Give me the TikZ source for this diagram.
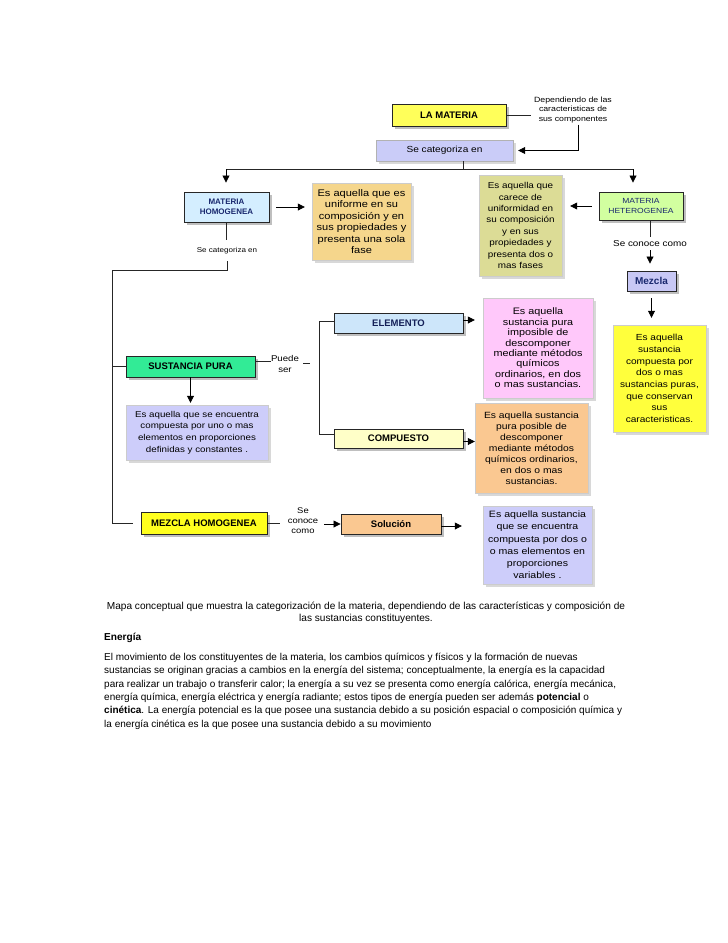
\documentclass[tikz,border=0pt]{standalone}
\usepackage{fontspec}
\setmainfont{Liberation Sans}
\newfontfamily\widefont[FakeStretch=1.15]{Liberation Sans}
\usetikzlibrary{shadows,arrows.meta}
\definecolor{cMat}{RGB}{255,255,90}
\definecolor{cCat}{RGB}{202,204,248}
\definecolor{cHom}{RGB}{212,238,255}
\definecolor{cNavy}{RGB}{25,40,110}
\definecolor{cOr}{RGB}{245,214,140}
\definecolor{cOl}{RGB}{220,220,150}
\definecolor{cHet}{RGB}{210,255,160}
\definecolor{cMez}{RGB}{200,200,245}
\definecolor{cYel}{RGB}{255,255,60}
\definecolor{cSp}{RGB}{50,235,150}
\definecolor{cLav}{RGB}{205,205,250}
\definecolor{cEle}{RGB}{205,230,250}
\definecolor{cPink}{RGB}{255,200,250}
\definecolor{cComp}{RGB}{255,255,200}
\definecolor{cPeach}{RGB}{250,200,145}
\definecolor{cMh}{RGB}{255,255,30}
\begin{document}
\begin{tikzpicture}[x=1pt,y=-1pt,
  lbl/.style={draw=black!85, line width=0.9pt, inner sep=0pt, align=center,
    font=\fontsize{9.5}{10.5}\selectfont\bfseries,
    drop shadow={shadow xshift=2.5pt,shadow yshift=-2.5pt,fill=black!50}},
  desc/.style={draw=black!20, line width=0.4pt, inner sep=0pt, align=center,
    font=\widefont\fontsize{9}{11.2}\selectfont,
    drop shadow={shadow xshift=2.5pt,shadow yshift=-2.5pt,fill=black!30}},
  note/.style={inner sep=0pt, align=center, font=\widefont\fontsize{8}{10}\selectfont},
  arr/.style={-{Triangle[length=7pt,width=7pt]}, line width=0.8pt},
  ln/.style={line width=0.8pt, draw=black!85},
]
\useasboundingbox[fill=white] (0,0) rectangle (728,943);

% top
\node[lbl, fill=cMat, minimum width=114pt, minimum height=22pt] (mat) at (449,115) {LA MATERIA};
\node[note, font=\widefont\fontsize{7.6}{9.8}\selectfont] (dep) at (573,110) {Dependiendo de las\\caracteristicas de\\sus componentes};
\node[desc, fill=cCat, draw=black!30, font=\widefont\fontsize{8.8}{10}\selectfont, minimum width=137pt, minimum height=21pt] (cat) at (444.5,150.5) {Se categoriza en};
\draw[ln, shorten >=3pt] (mat.east) -- (mat.east -| dep.west);
\draw[arr, shorten <=1pt, shorten >=5pt] ([xshift=5pt]dep.south) |- (cat.east);

\coordinate (j1) at (463,169);
\coordinate (jl) at (226,169);
\coordinate (jr) at (633,169);
\draw[ln] (cat.south -| j1) -- (j1);
\draw[ln] (jl) -- (jr);

% homogeneous branch
\node[lbl, fill=cHom, text=cNavy, font=\fontsize{8}{10}\selectfont\bfseries, minimum width=85pt, minimum height=30pt] (homog) at (226.5,207) {MATERIA\\HOMOGENEA};
\node[desc, fill=cOr, minimum width=99pt, minimum height=77pt, font=\widefont\fontsize{9.6}{11.4}\selectfont] (d1) at (361.5,221.5) {Es aquella que es\\uniforme en su\\composición y en\\sus propiedades y\\presenta una sola\\fase};
\draw[arr, shorten >=9pt] (jl) -- (homog.north -| jl);
\draw[arr, shorten <=7pt, shorten >=7pt] (homog.east) -- (homog.east -| d1.west);

% heterogeneous branch
\node[desc, fill=cOl, minimum width=83pt, minimum height=101pt, font=\widefont\fontsize{8.6}{11.4}\selectfont] (d2) at (520.5,225.5) {Es aquella que\\carece de\\uniformidad en\\su composición\\y en sus\\propiedades y\\presenta dos o\\mas fases};
\node[lbl, fill=cHet, text=cNavy, font=\widefont\fontsize{7.4}{10}\selectfont, minimum width=84pt, minimum height=28pt] (hetero) at (641,206) {MATERIA\\HETEROGENEA};
\draw[arr, shorten >=9pt] (jr) -- (hetero.north -| jr);
\draw[arr, shorten <=7pt, shorten >=8pt] (hetero.west) -- (hetero.west -| d2.east);
\node[note, font=\widefont\fontsize{8.6}{10}\selectfont] (l2) at (650,244) {Se conoce como};
\node[lbl, fill=cMez, text=cNavy, font=\fontsize{10}{10}\selectfont\bfseries, minimum width=49pt, minimum height=20pt] (mezcla) at (651.5,281) {Mezcla};
\draw[ln, shorten >=4pt] (l2.north |- hetero.south) -- (l2.north);
\draw[arr, shorten <=3pt, shorten >=7pt] (l2.south) -- (l2.south |- mezcla.north);
\node[desc, fill=cYel, minimum width=93pt, minimum height=107pt, font=\widefont\fontsize{8.8}{11.7}\selectfont] (yel) at (659.5,378.5) {Es aquella\\sustancia\\compuesta por\\dos o mas\\sustancias puras,\\que conservan\\sus\\caracteristicas.};
\draw[arr, shorten <=7pt, shorten >=7pt] (mezcla.south) -- (mezcla.south |- yel.north);

% left spine
\node[note, font=\widefont\fontsize{7}{9}\selectfont] (l1) at (227,251) {Se categoriza en};
\coordinate (c1) at (227,270);
\coordinate (c2) at (112,270);
\draw[ln, shorten >=8pt] (homog.south) -- (homog.south |- l1.north);

\node[lbl, fill=cSp, minimum width=129pt, minimum height=21pt] (sp) at (190.5,366.5) {SUSTANCIA PURA};
\node[desc, fill=cLav, minimum width=142pt, minimum height=55pt, font=\widefont\fontsize{8.5}{11.7}\selectfont] (lav2) at (197,432.5) {Es aquella que se encuentra\\compuesta por uno o mas\\elementos en proporciones\\definidas y constantes .};
\node[lbl, fill=cMh, minimum width=126pt, minimum height=22pt] (mh) at (204,523) {MEZCLA HOMOGENEA};

\draw[ln] (c1 |- l1.south) ++(0,7) -- (c1) -- (c2) |- ([xshift=-8pt]mh.west);
\draw[ln] (c2 |- sp.west) -- (sp.west);
\draw[arr, shorten >=2pt] (sp.south) -- (sp.south |- lav2.north);

% puede ser
\node[note, font=\widefont\fontsize{8.4}{10.5}\selectfont] (l3) at (285,364) {Puede\\ser};
\draw[ln] ([yshift=5pt]sp.east) -- ([yshift=5pt]sp.east -| l3.west);
\coordinate (da) at (303,363);
\coordinate (db) at (310,363);
\draw[ln] (da) -- (db);

\node[lbl, fill=cEle, text=cNavy!80!black, minimum width=129pt, minimum height=20pt] (elem) at (398.5,323) {ELEMENTO};
\node[lbl, fill=cComp, minimum width=129pt, minimum height=19pt] (comp) at (398.5,438.5) {COMPUESTO};
\coordinate (v1) at (319,321);
\coordinate (v2) at (319,434);
\draw[ln] (v1 -| elem.west) -- (v1) -- (v2) -- (v2 -| comp.west);

\node[desc, fill=cPink, minimum width=110pt, minimum height=100pt, font=\widefont\fontsize{9.4}{10.4}\selectfont] (pink) at (538,348) {Es aquella\\sustancia pura\\imposible de\\descomponer\\mediante métodos\\químicos\\ordinarios, en dos\\o mas sustancias.};
\node[desc, fill=cPeach, minimum width=113pt, minimum height=90pt, font=\widefont\fontsize{9}{11}\selectfont] (peach) at (531.5,448) {Es aquella sustancia\\pura posible de\\descomponer\\mediante métodos\\químicos ordinarios,\\en dos o mas\\sustancias.};
\draw[arr, shorten >=8pt] ([yshift=3pt]elem.east) -- ([yshift=3pt]elem.east -| pink.west);
\draw[arr, shorten >=0pt] ([yshift=-3pt]comp.east) -- ([yshift=-3pt]comp.east -| peach.west);

% solucion
\node[note, font=\widefont\fontsize{8.2}{10}\selectfont] (l4) at (303,521) {Se\\conoce\\como};
\node[lbl, fill=cPeach, minimum width=100pt, minimum height=20pt] (sol) at (391,524) {Solución};
\node[desc, fill=cLav, minimum width=109pt, minimum height=78pt, font=\widefont\fontsize{9.2}{12.2}\selectfont] (lav3) at (537.5,545) {Es aquella sustancia\\que se encuentra\\compuesta por dos o\\o mas elementos en\\proporciones\\variables .};
\draw[ln, shorten >=8pt] (mh.east) -- (mh.east -| l4.west);
\draw[arr, shorten <=6pt] (l4.east |- sol.west) -- (sol.west);
\draw[arr, shorten >=21pt] ([yshift=-2pt]sol.east) -- ([yshift=-2pt]sol.east -| lav3.west);

% caption and text
\node[inner sep=0pt, align=center, font=\fontsize{10.1}{12}\selectfont] (cap) at (366,613) {Mapa conceptual que muestra la categorización de la materia, dependiendo de las características y composición de\\las sustancias constituyentes.};
\node[inner sep=0pt, anchor=west, font=\fontsize{10.1}{12}\selectfont\bfseries] (en) at (104,638) {Energía};
\node[inner sep=0pt, anchor=north west, align=left, font=\fontsize{10}{13.3}\selectfont] (par) at (104,653) {El movimiento de los constituyentes de la materia, los cambios químicos y físicos y la formación de nuevas\\sustancias se originan gracias a cambios en la energía del sistema; conceptualmente, la energía es la capacidad\\para realizar un trabajo o transferir calor; la energía a su vez se presenta como energía calórica, energía mecánica,\\energía química, energía eléctrica y energía radiante; estos tipos de energía pueden ser además \textbf{potencial} o\\\textbf{cinética}. La energía potencial es la que posee una sustancia debido a su posición espacial o composición química y\\la energía cinética es la que posee una sustancia debido a su movimiento};
\end{tikzpicture}
\end{document}
